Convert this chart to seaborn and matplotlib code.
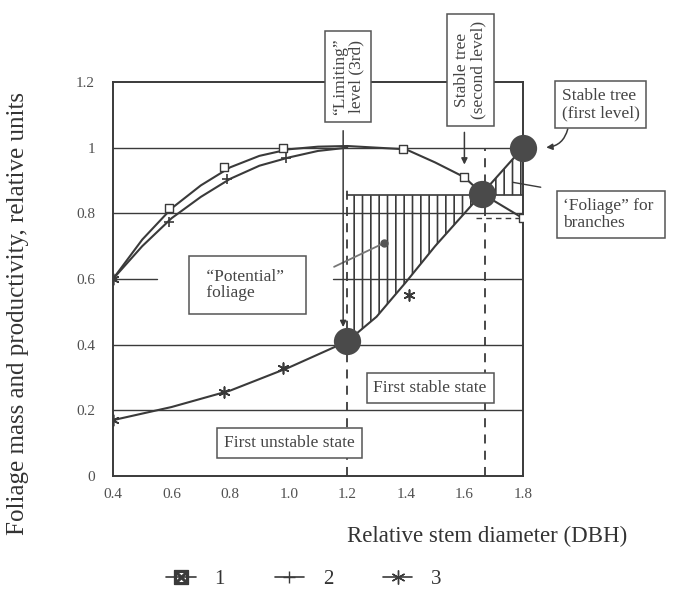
import matplotlib
matplotlib.use("Agg")
import matplotlib.pyplot as plt
from matplotlib.lines import Line2D
import seaborn as sns
import pandas as pd
import numpy as np

# ---------------- data ----------------
curve1_x = [0.4, 0.5, 0.6, 0.7, 0.8, 0.9, 1.0, 1.1, 1.2, 1.3, 1.4, 1.5, 1.6, 1.66, 1.8]
curve1_y = [0.60, 0.72, 0.815, 0.885, 0.94, 0.975, 0.995, 1.003, 1.005, 1.0, 0.995, 0.955, 0.91, 0.86, 0.785]

curve2_x = [0.4, 0.5, 0.6, 0.7, 0.8, 0.9, 1.0, 1.1, 1.2]
curve2_y = [0.60, 0.70, 0.785, 0.85, 0.905, 0.945, 0.97, 0.99, 1.0]

curve3_x = [0.4, 0.5, 0.6, 0.7, 0.8, 0.9, 1.0, 1.1, 1.2, 1.3, 1.4, 1.5, 1.6, 1.66, 1.8]
curve3_y = [0.17, 0.19, 0.21, 0.235, 0.26, 0.295, 0.33, 0.37, 0.41, 0.485, 0.59, 0.70, 0.80, 0.86, 1.0]

squares_x = [0.59, 0.78, 0.98, 1.39, 1.60, 1.80]
squares_y = [0.815, 0.94, 1.0, 0.995, 0.91, 0.785]
plus_x = [0.59, 0.79, 0.99]
plus_y = [0.775, 0.905, 0.97]
stars_x = [0.4, 0.4, 0.78, 0.98, 1.41]
stars_y = [0.6, 0.17, 0.255, 0.33, 0.55]

dots_x = [1.2, 1.66, 1.8]
dots_y = [0.41, 0.86, 1.0]

foliage_level = 0.855
side_x = [1.155, 1.327]
side_y = [0.637, 0.71]

grid_levels = [0.2, 0.4, 0.8, 1.0]
xticks = [0.4, 0.6, 0.8, 1.0, 1.2, 1.4, 1.6, 1.8]
xtick_labels = ["0.4", "0.6", "0.8", "1.0", "1.2", "1.4", "1.6", "1.8"]
yticks = [0, 0.2, 0.4, 0.6, 0.8, 1.0, 1.2]
ytick_labels = ["0", "0.2", "0.4", "0.6", "0.8", "1", "1.2"]
legend_labels = ["1", "2", "3"]

# ---------------- style ----------------
sns.set_style("white")
plt.rcParams["font.family"] = ["Liberation Serif", "DejaVu Serif"]
plt.rcParams["mathtext.fontset"] = "dejavuserif"
plt.rcParams["hatch.linewidth"] = 1.2

INK = "#3a3a3a"
TXT = "#505050"

fig = plt.figure(figsize=(6.83, 5.92), dpi=100)
ax = fig.add_axes([0.1654, 0.196, 0.6003, 0.6655])
ax.set_xlim(0.4, 1.8)
ax.set_ylim(0, 1.2)

# grid lines (drawn as data lines)
for g in grid_levels:
    ax.plot([0.4, 1.8], [g, g], color=INK, lw=1.0, zorder=1)
ax.plot([0.4, 0.55], [0.6, 0.6], color=INK, lw=1.0, zorder=1)
ax.plot([1.15, 1.8], [0.6, 0.6], color=INK, lw=1.0, zorder=1)

# dashed verticals
ax.plot([1.2, 1.2], [0.0, 0.88], color=INK, lw=1.3, ls=(0, (5, 4)), zorder=2)
ax.plot([1.672, 1.672], [0.0, 1.0], color=INK, lw=1.3, ls=(0, (5, 4)), zorder=2)
ax.plot([1.64, 1.8], [0.787, 0.787], color=INK, lw=1.0, ls=(0, (4, 3)), zorder=2)

# hatched regions
c3x = np.array(curve3_x)
c3y = np.array(curve3_y)
mask_l = (c3x >= 1.2) & (c3x <= 1.66)
ax.fill_between(c3x[mask_l], c3y[mask_l], foliage_level, facecolor="none",
                edgecolor=INK, hatch="||", linewidth=0, zorder=2)
mask_r = (c3x >= 1.66)
ax.fill_between(c3x[mask_r], foliage_level, c3y[mask_r], facecolor="none",
                edgecolor=INK, hatch="||", linewidth=0, zorder=2)
ax.plot([1.2, 1.8], [foliage_level, foliage_level], color=INK, lw=1.2, zorder=3)

# curves via seaborn
df1 = pd.DataFrame({"x": curve1_x, "y": curve1_y})
df2 = pd.DataFrame({"x": curve2_x, "y": curve2_y})
df3 = pd.DataFrame({"x": curve3_x, "y": curve3_y})
sns.lineplot(data=df1, x="x", y="y", ax=ax, color=INK, lw=1.5, sort=True, zorder=4)
sns.lineplot(data=df2, x="x", y="y", ax=ax, color=INK, lw=1.5, sort=True, zorder=4)
sns.lineplot(data=df3, x="x", y="y", ax=ax, color=INK, lw=1.5, sort=True, zorder=4)

ax.plot(side_x, side_y, color="#777777", lw=1.3, zorder=4)
ax.plot(side_x[1:], side_y[1:], "o", color="#555555", ms=5, zorder=5)

# markers
sns.scatterplot(x=squares_x, y=squares_y, ax=ax, marker="s", s=36,
                facecolor="white", edgecolor=INK, linewidth=1.0, zorder=5)
sns.scatterplot(x=plus_x, y=plus_y, ax=ax, marker="+", s=45, color=INK,
                linewidth=1.2, zorder=5)
sns.scatterplot(x=stars_x, y=stars_y, ax=ax, marker=(6, 2, 0), s=60, color=INK,
                linewidth=1.2, zorder=5)
sns.scatterplot(x=dots_x, y=dots_y, ax=ax, s=330, color="#4a4a4a",
                edgecolor="#4a4a4a", zorder=6, clip_on=False)

# axes appearance
for sp in ax.spines.values():
    sp.set_color(INK)
    sp.set_linewidth(1.4)
ax.set_xticks(xticks)
ax.set_xticklabels(xtick_labels)
ax.set_yticks(yticks)
ax.set_yticklabels(ytick_labels)
ax.tick_params(axis="x", direction="in", length=4, width=1, colors=INK,
               labelcolor=TXT, labelsize=11, pad=9)
ax.tick_params(axis="y", length=0, labelcolor=TXT, labelsize=11, pad=13)
ax.set_xlabel("")
ax.set_ylabel("")

fig.text(0.027, 0.47, "Foliage mass and productivity, relative units",
         rotation=90, ha="center", va="center", fontsize=18, color="#333333")
fig.text(0.713, 0.093, "Relative stem diameter (DBH)", ha="center", va="center",
         fontsize=16.5, color="#333333")

# text boxes
box = dict(boxstyle="square,pad=0.4", facecolor="white", edgecolor="#555555", lw=1.1)
kw = dict(fontsize=12.5, color="#444444", ha="center", va="center", zorder=10,
          clip_on=False, bbox=box, linespacing=1.05)
ax.text(1.203, 1.216, "\u201cLimiting\u201d\nlevel (3rd)", rotation=90, **kw)
ax.text(1.62, 1.238, "Stable tree\n(second level)", rotation=90, **kw)
ax.text(2.065, 1.131, "Stable tree\n(first level)", multialignment="left", **kw)
ax.text(2.10, 0.796, "\u2018Foliage\u201d for \nbranches", multialignment="left", **kw)
ax.text(0.859, 0.582, " \u201cPotential\u201d  \n foliage", multialignment="left",
        **{**kw, "bbox": dict(boxstyle="square,pad=0.75", facecolor="white",
                              edgecolor="#555555", lw=1.1)})
ax.text(1.483, 0.268, "First stable state", **kw)
ax.text(1.003, 0.10, "First unstable state", **kw)

# arrows / pointers
arr = dict(arrowstyle="-|>", color=INK, lw=1.1, mutation_scale=9)
ax.annotate("", xy=(1.186, 0.445), xytext=(1.186, 1.06),
            arrowprops=arr, annotation_clip=False, zorder=7)
ax.annotate("", xy=(1.60, 0.94), xytext=(1.60, 1.055),
            arrowprops=arr, annotation_clip=False, zorder=7)
ax.annotate("", xy=(1.87, 1.0), xytext=(1.955, 1.065),
            arrowprops=dict(arrowstyle="-|>", color=INK, lw=1.1, mutation_scale=9,
                            connectionstyle="arc3,rad=-0.4"),
            annotation_clip=False, zorder=7)
ax.annotate("", xy=(1.755, 0.896), xytext=(1.87, 0.878),
            arrowprops=dict(arrowstyle="-", color=INK, lw=1.0),
            annotation_clip=False, zorder=7)

# legend
handles = [
    Line2D([], [], color=INK, lw=1.2, marker=r"$\boxtimes$", ms=10),
    Line2D([], [], color=INK, lw=1.2, marker="+", ms=9),
    Line2D([], [], color=INK, lw=1.2, marker=(6, 2, 0), ms=10),
]
fig.legend(handles, legend_labels, loc="center", bbox_to_anchor=(0.445, 0.021),
           ncol=3, frameon=False, fontsize=15, handlelength=1.4,
           columnspacing=2.4, handletextpad=0.9, labelcolor="#333333",
           borderpad=0.1)

fig.savefig("out.png", dpi=100, facecolor="white")
